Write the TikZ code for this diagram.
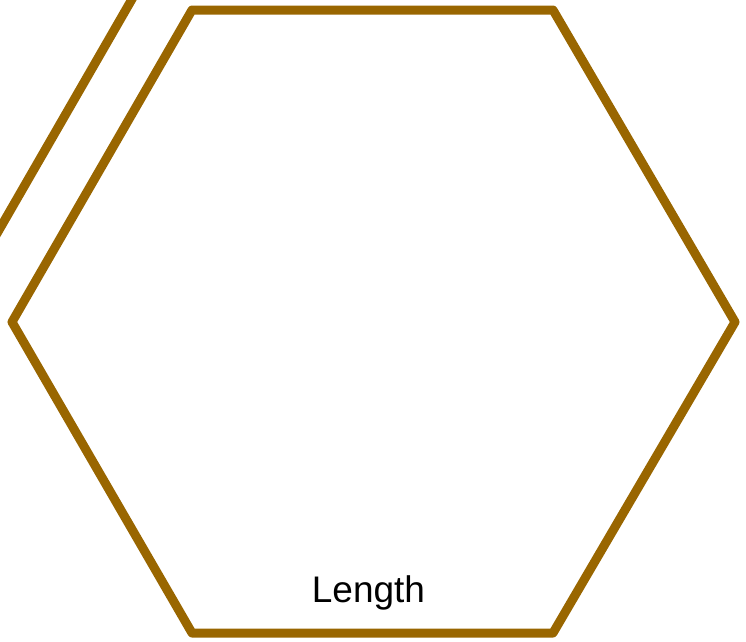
\documentclass[tikz,border=0pt]{standalone}
\usepackage{fontspec}
\setmainfont{Liberation Sans}
\definecolor{hexbrown}{HTML}{996600}
\begin{document}
\begin{tikzpicture}[x=1pt,y=1pt,
  hexline/.style={draw=hexbrown,line width=9pt,line join=round,line cap=round},
  lbl/.style={font=\fontsize{37}{41}\selectfont,text=black,inner sep=0pt}]
\useasboundingbox (0,0) rectangle (746,-641);
\clip (0,0) rectangle (746,-641);
\draw[hexline] (192,-10) -- (553,-10) -- (735,-322) -- (553,-633) -- (192,-633) -- (12,-322) -- cycle;
\draw[hexline] (143,20) -- (-20,-263);
\node[lbl,anchor=base] (len) at (368.5,-602) {Length};
\end{tikzpicture}
\end{document}
